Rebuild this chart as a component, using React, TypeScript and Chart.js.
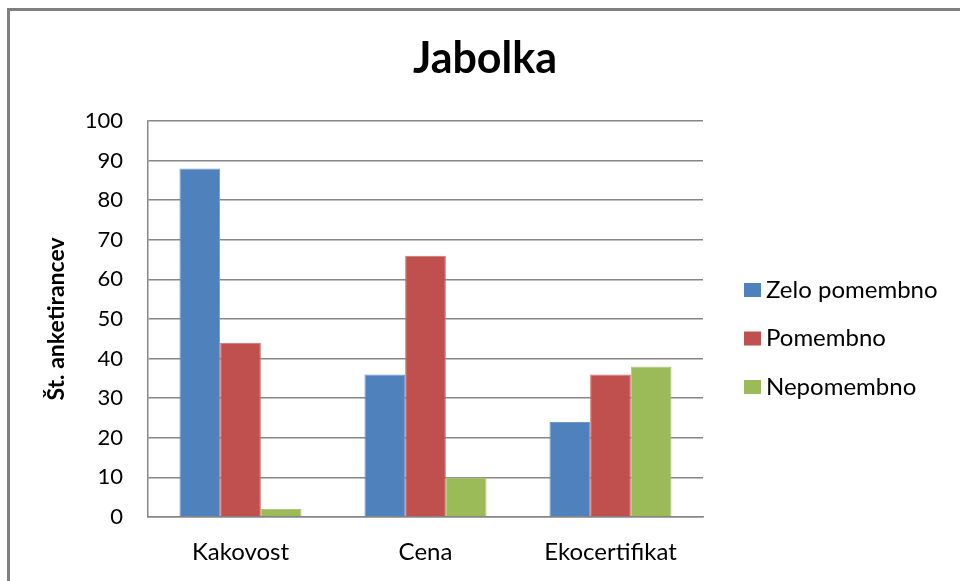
import { useEffect, useRef } from "react";
import { Chart, registerables, layouts } from "chart.js";

Chart.register(...registerables);

const categories = ["Kakovost", "Cena", "Ekocertifikat"];
const seriesNames = ["Zelo pomembno", "Pomembno", "Nepomembno"];
const zeloPomembno = [88, 36, 24];
const pomembno = [44, 66, 36];
const nepomembno = [2, 10, 38];
const yMin = 0;
const yMax = 100;
const yStep = 10;
const chartTitle = "Jabolka";
const yAxisTitle = "Št. anketirancev";
const seriesColors = ["#4F81BD", "#C0504D", "#9BBB59"];
const seriesBorders = ["#6E98CB", "#CD726F", "#AFCA7A"];

const FONT = "Lato, 'Open Sans', sans-serif";
const GRID = "#868686";
const LEGEND_WIDTH = 257;

const framePlugin = {
  id: "frame",
  beforeDraw(chart: any) {
    const ctx = chart.ctx;
    ctx.save();
    ctx.fillStyle = "#ffffff";
    ctx.fillRect(0, 0, chart.width, chart.height);
    ctx.strokeStyle = "#7f7f7f";
    ctx.lineWidth = 3;
    ctx.strokeRect(8.5, 9.5, chart.width + 50, chart.height + 50);
    ctx.restore();
  },
};

function drawLegend(chart: any, box: any) {
  const ctx = chart.ctx;
  const x0 = box.left + 41;
  const firstRow = 290;
  const rowGap = 48.5;
  ctx.save();
  ctx.font = `24px ${FONT}`;
  ctx.textBaseline = "middle";
  ctx.textAlign = "left";
  chart.data.datasets.forEach((ds: any, i: number) => {
    const cy = firstRow + i * rowGap;
    ctx.fillStyle = ds.backgroundColor;
    ctx.fillRect(x0, cy - 7, 17, 14);
    ctx.fillStyle = "#000000";
    ctx.fillText(ds.label, x0 + 22, cy);
  });
  ctx.restore();
}

const legendPlugin = {
  id: "sideLegend",
  beforeInit(chart: any) {
    const box: any = {
      position: "right",
      weight: 1000,
      fullSize: false,
      options: {},
      left: 0,
      top: 0,
      right: 0,
      bottom: 0,
      width: 0,
      height: 0,
      update(_maxWidth: number, maxHeight: number) {
        this.width = LEGEND_WIDTH;
        this.height = maxHeight;
      },
      isHorizontal() {
        return false;
      },
      getPadding() {
        return { top: 0, left: 0, right: 0, bottom: 0 };
      },
      draw() {},
      _layers() {
        return [{ z: 0, draw: () => drawLegend(chart, box) }];
      },
    };
    layouts.addBox(chart, box);
  },
};

export default function App() {
  const canvasRef = useRef<HTMLCanvasElement | null>(null);

  useEffect(() => {
    if (!canvasRef.current) return;
    const values = [zeloPomembno, pomembno, nepomembno];
    const chart = new Chart(canvasRef.current, {
      type: "bar",
      data: {
        labels: categories,
        datasets: seriesNames.map((name, i) => ({
          label: name,
          data: values[i],
          backgroundColor: seriesColors[i],
          borderColor: seriesBorders[i],
          borderWidth: 1,
          categoryPercentage: 0.66,
          barPercentage: 1,
        })),
      },
      options: {
        responsive: false,
        animation: false,
        layout: { padding: { left: 10, right: 0, top: 0, bottom: 0 } },
        plugins: {
          legend: { display: false },
          tooltip: { enabled: false },
          title: {
            display: true,
            text: chartTitle,
            color: "#000000",
            font: { family: FONT, size: 43, weight: "bold" },
            padding: { top: 33, bottom: 36.4 },
          },
        },
        scales: {
          x: {
            grid: { display: false, drawTicks: false },
            border: { display: true, color: GRID, width: 1.5 },
            ticks: { color: "#000000", font: { family: FONT, size: 24 }, padding: 21 },
            afterFit(scale: any) {
              scale.height = 64;
            },
          },
          y: {
            min: yMin,
            max: yMax,
            ticks: {
              stepSize: yStep,
              color: "#000000",
              font: { family: FONT, size: 22 },
              padding: 25,
            },
            grid: { color: GRID, lineWidth: 1.5, drawTicks: false },
            border: { display: true, color: GRID, width: 1.5 },
            title: {
              display: true,
              text: yAxisTitle,
              color: "#000000",
              font: { family: FONT, size: 23, weight: "bold" },
              padding: { top: 33, bottom: 0 },
            },
            afterFit(scale: any) {
              scale.width = 138;
            },
          },
        },
      },
      plugins: [framePlugin, legendPlugin],
    } as any);
    return () => chart.destroy();
  }, []);

  return (
    <div style={{ position: "absolute", left: 0, top: 0, width: 960, height: 581 }}>
      <canvas ref={canvasRef} width={960} height={581} style={{ display: "block" }} />
    </div>
  );
}
